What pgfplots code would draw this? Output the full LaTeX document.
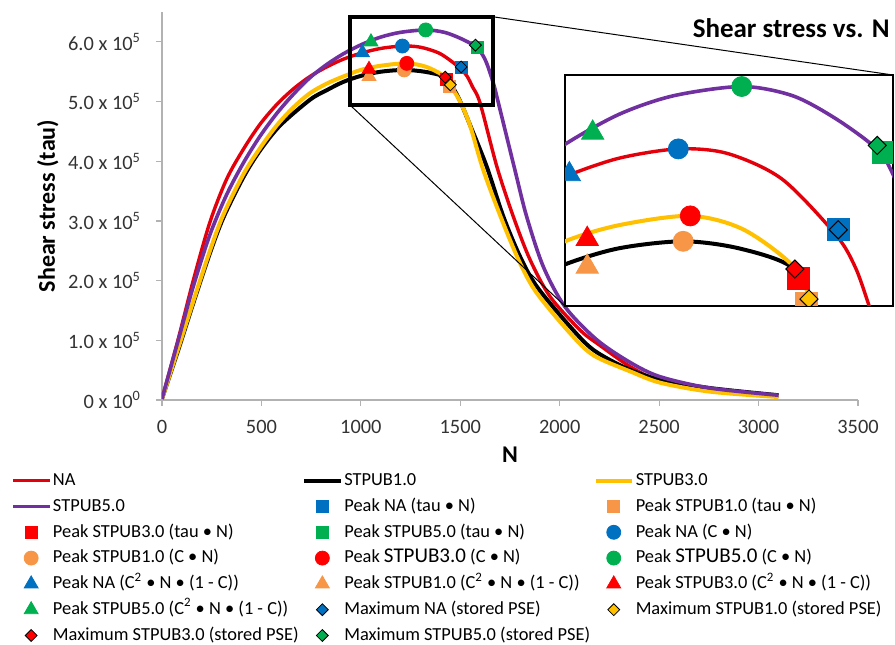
\documentclass[border=0pt]{standalone}
\usepackage{fontspec}
\setmainfont{Carlito}
\usepackage{pgfplots}
\usepackage{pgfplotstable}
\pgfplotsset{compat=1.18}

\definecolor{cNA}{RGB}{228,0,10}
\definecolor{cS3}{RGB}{255,192,0}
\definecolor{cS5}{RGB}{112,48,160}
\definecolor{mBlue}{RGB}{0,112,192}
\definecolor{mGreen}{RGB}{0,176,80}
\definecolor{mOrange}{RGB}{247,150,70}
\definecolor{mRed}{RGB}{255,0,0}
\definecolor{mGold}{RGB}{255,192,0}

% curves: N vs shear stress
\pgfplotstableread{
N tau
0 2000
80 100000
157 200000
241 298000
325 370000
409 420000
493 462000
577 495000
660 521000
744 542000
828 558000
912 571000
1000 581000
1100 589000
1209 593000
1300 591000
1400 580000
1499 556000
1535 542000
1561 525000
1600 497000
1684 391000
1767 307000
1851 235000
1952 173000
2103 117000
2200 92000
2354 56000
2505 32000
2756 16000
3100 6000
}\tabNA

\pgfplotstableread{
N tau
0 2000
80 82000
157 162000
241 246000
308 305000
409 373000
493 418000
594 460000
744 503000
828 519000
912 533000
1000 543000
1100 550000
1218 553000
1320 550000
1417 542000
1460 525000
1500 500000
1550 460000
1633 391000
1717 307000
1801 240000
1885 190000
2052 123000
2169 84000
2337 53000
2505 34000
2756 20000
3100 8000
}\tabSa

\pgfplotstableread{
N tau
0 2000
80 85000
157 165000
241 250000
308 310000
409 378000
493 422000
577 460000
660 490000
744 514000
828 530000
912 542000
1000 553000
1100 560000
1231 564000
1330 558000
1426 541000
1460 522000
1499 500000
1549 460000
1616 385000
1709 302000
1801 229000
1885 179000
2052 112000
2169 75000
2354 48000
2505 29000
2756 14000
3100 5000
}\tabSc

\pgfplotstableread{
N tau
0 2000
80 98000
157 190000
241 277000
325 344000
409 397000
493 442000
577 480000
660 512000
744 540000
828 562000
912 580000
1000 595000
1100 608000
1200 616000
1326 620000
1420 616000
1500 606000
1575 593000
1605 582000
1633 564000
1667 530000
1690 500000
1775 385000
1834 307000
1918 223000
2027 156000
2186 101000
2354 63000
2505 39000
2756 20000
3100 8000
}\tabSe

\newcommand{\CurvePlots}{%
\addplot[cNA, line width=1.7pt, smooth] table {\tabNA};
\addplot[black, line width=2pt, smooth] table {\tabSa};
\addplot[cS3, line width=2pt, smooth] table {\tabSc};
\addplot[cS5, line width=1.8pt, smooth] table {\tabSe};
}
\newcommand{\MarkerPlots}{%
\addplot[sqm, mBlue] coordinates {(1504,558000)};
\addplot[sqm, mOrange] coordinates {(1445,526000)};
\addplot[sqm, mRed] coordinates {(1430,537000)};
\addplot[sqm, mGreen] coordinates {(1587,591500)};
\addplot[cim, mBlue] coordinates {(1209,593000)};
\addplot[cim, mOrange] coordinates {(1218,553000)};
\addplot[cim, mRed] coordinates {(1231,564000)};
\addplot[cim, mGreen] coordinates {(1326,620000)};
\addplot[trm, mBlue] coordinates {(1008,582000)};
\addplot[trm, mOrange] coordinates {(1041,542000)};
\addplot[trm, mRed] coordinates {(1041,554000)};
\addplot[trm, mGreen] coordinates {(1051,600000)};
\addplot[dim=mBlue] coordinates {(1504,558000)};
\addplot[dim=mGold] coordinates {(1450,528000)};
\addplot[dim=mRed] coordinates {(1424,541000)};
\addplot[dim=mGreen] coordinates {(1576,594500)};
}

\begin{document}
\begin{tikzpicture}
\useasboundingbox (-81pt,-122pt) rectangle (366.5pt,200pt);
\begin{axis}[
  name=main, at={(0,0)}, anchor=south west, scale only axis,
  width=348pt, height=194pt,
  xmin=0, xmax=3500, ymin=0, ymax=650000,
  axis x line*=bottom, axis y line*=left,
  axis line style={gray!60, line width=0.6pt},
  tick style={gray!60, line width=0.6pt}, tick align=outside, major tick length=3pt,
  xtick={0,500,...,3500}, xticklabels={0,500,1000,1500,2000,2500,3000,3500},
  ytick={0,100000,...,600000}, scaled y ticks=false,
  yticklabels={0 x 10\textsuperscript{0},1.0 x 10\textsuperscript{5},2.0 x 10\textsuperscript{5},3.0 x 10\textsuperscript{5},4.0 x 10\textsuperscript{5},5.0 x 10\textsuperscript{5},6.0 x 10\textsuperscript{5}},
  tick label style={font=\fontsize{10.2}{12}\selectfont, text=black!80},
  y tick label style={xshift=-4pt},
  x tick label style={yshift=-3.5pt},
  xlabel={N}, ylabel={Shear stress (tau)},
  every axis x label/.style={at={(axis description cs:0.5,-0.142)}, anchor=center, font=\bfseries\fontsize{12}{14}\selectfont},
  every axis y label/.style={at={(axis description cs:-0.164,0.5)}, anchor=center, rotate=90, font=\bfseries\fontsize{12}{14}\selectfont},
  legend columns=3, legend cell align=left,
  legend style={at={(axis description cs:-0.217,-0.176)}, anchor=north west,
    draw=none, fill=none, inner sep=0pt, font=\fontsize{9.2}{11}\selectfont,
    nodes={inner sep=1pt, text height=7.4pt, text depth=2.6pt}, row sep=0.9pt,
    /tikz/every even column/.append style={column sep=0.8pt}},
  legend image code/.code={\draw[mark repeat=2,mark phase=2,#1] plot coordinates {(0pt,0pt) (9pt,0pt) (18pt,0pt)};},
  sqm/.style={only marks, mark=square*, mark size=3pt},
  cim/.style={only marks, mark=*, mark size=3.5pt},
  trm/.style={only marks, mark=triangle*, mark size=4pt},
  dim/.style={only marks, mark=square*, mark size=2.1pt, mark options={rotate=45, fill=#1, draw=black, line width=0.4pt}},
]
\CurvePlots
\MarkerPlots
\legend{NA, STPUB1.0, STPUB3.0, STPUB5.0,
  Peak NA (tau • N), Peak STPUB1.0 (tau • N), Peak STPUB3.0 (tau • N), Peak STPUB5.0 (tau • N),
  Peak NA (C • N), Peak STPUB1.0 (C • N), Peak {\fontsize{10.5}{11}\selectfont STPUB3.0} (C • N), Peak {\fontsize{10.5}{11}\selectfont STPUB5.0} (C • N),
  Peak NA (C\textsuperscript{2} • N • (1 - C)), Peak STPUB1.0 (C\textsuperscript{2} • N • (1 - C)),
  Peak STPUB3.0 (C\textsuperscript{2} • N • (1 - C)), Peak STPUB5.0 (C\textsuperscript{2} • N • (1 - C)),
  Maximum NA (stored PSE), Maximum STPUB1.0 (stored PSE), Maximum STPUB3.0 (stored PSE), Maximum STPUB5.0 (stored PSE)}
\draw[black, line width=2pt] (axis cs:946,494000) rectangle (axis cs:1665,642000);
\coordinate (bTR) at (axis cs:1665,642000);
\coordinate (bBL) at (axis cs:946,494000);
\end{axis}

\begin{axis}[
  name=inset, at={(201.5pt,47pt)}, anchor=south west, scale only axis,
  width=164pt, height=115.5pt,
  xmin=1000, xmax=1605, ymin=525000, ymax=625000,
  xtick=\empty, ytick=\empty,
  axis background/.style={fill=white},
  axis line style={black, line width=0.75pt},
  clip marker paths=true,
  sqm/.style={only marks, mark=square*, mark size=5.5pt},
  cim/.style={only marks, mark=*, mark size=5pt},
  trm/.style={only marks, mark=triangle*, mark size=6.4pt},
  dim/.style={only marks, mark=square*, mark size=3.2pt, mark options={rotate=45, fill=#1, draw=black, line width=0.5pt}},
]
\CurvePlots
\MarkerPlots
\coordinate (iTR) at (rel axis cs:1,1);
\coordinate (iBL) at (rel axis cs:0,0);
\end{axis}
\draw[black, line width=0.5pt] (bTR) -- (iTR);
\draw[black, line width=0.5pt] (bBL) -- (iBL);
\node[anchor=east, inner sep=0pt, font=\bfseries\fontsize{13.5}{15}\selectfont] at (364pt,186pt) {Shear stress vs. N};
\end{tikzpicture}
\end{document}
